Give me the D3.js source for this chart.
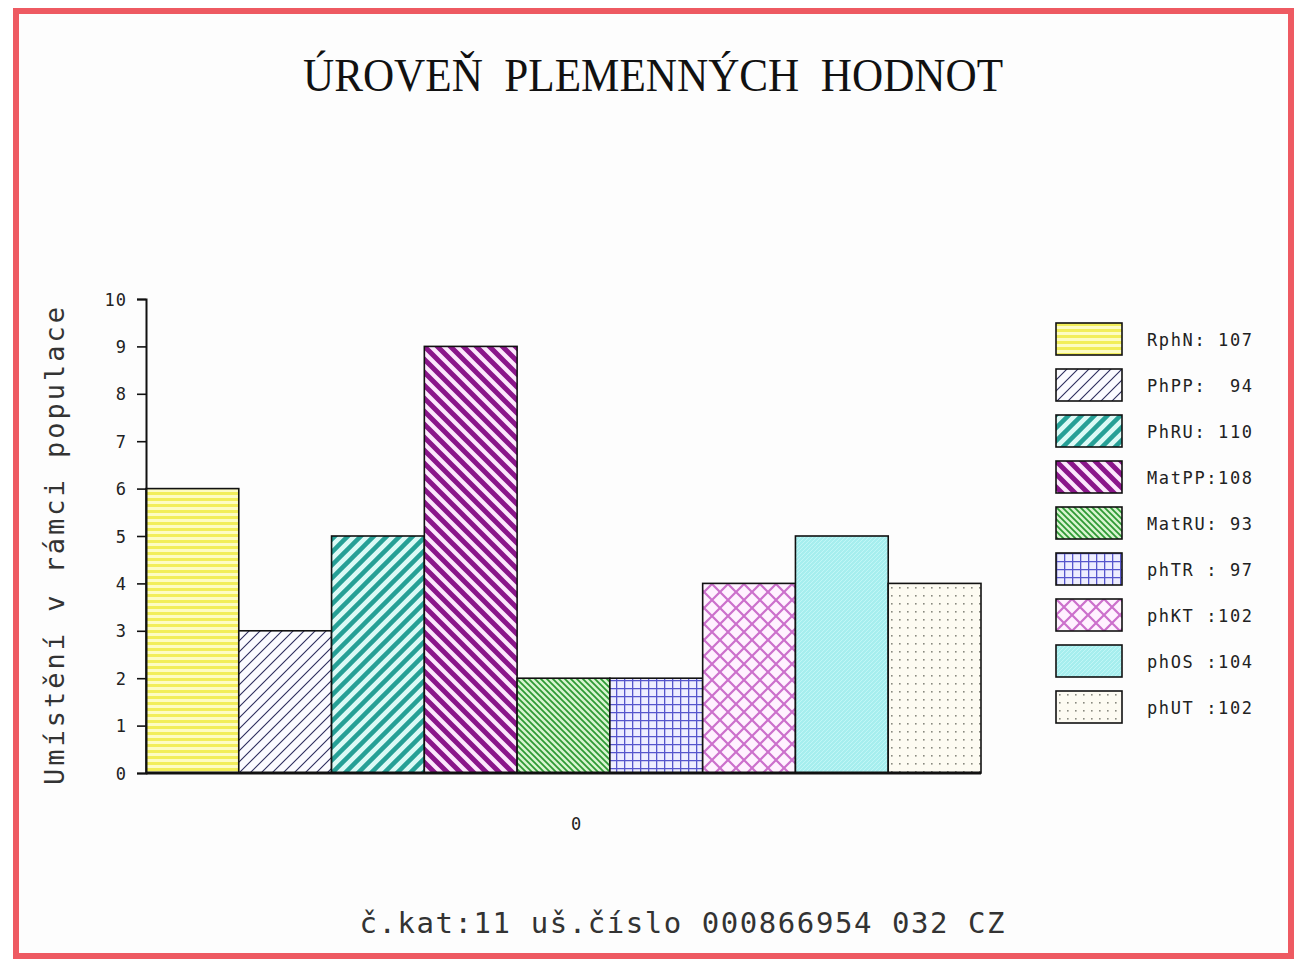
<!DOCTYPE html>
<html>
<head>
<meta charset="utf-8">
<script src="https://cdn.jsdelivr.net/npm/d3@7"></script>
<style>
  body { margin: 0; background: #ffffff; }
  text { font-family: "DejaVu Sans Mono", monospace; fill: #222; }
</style>
</head>
<body>
<div id="chart"></div>
<script>
// data
var categories = ['RphN', 'PhPP', 'PhRU', 'MatPP', 'MatRU', 'phTR', 'phKT', 'phOS', 'phUT'];
var placement = [6, 3, 5, 9, 2, 2, 4, 5, 4];
var legendLabels = ['RphN: 107', 'PhPP:  94', 'PhRU: 110', 'MatPP:108', 'MatRU: 93',
                    'phTR : 97', 'phKT :102', 'phOS :104', 'phUT :102'];
var yTicks = [0, 1, 2, 3, 4, 5, 6, 7, 8, 9, 10];
var xGroup = ['0'];

var W = 1307, H = 962;
var svg = d3.select('#chart').append('svg')
    .attr('width', W)
    .attr('height', H);

// patterns
var defs = svg.append('defs');

function pat(id, size) {
    return defs.append('pattern')
        .attr('id', id)
        .attr('patternUnits', 'userSpaceOnUse')
        .attr('width', size)
        .attr('height', size);
}

// 0 yellow horizontal stripes
var p = pat('p0', 6);
p.append('rect').attr('width', 6).attr('height', 6).attr('fill', '#fdfcc4');
p.append('rect').attr('y', 0).attr('width', 6).attr('height', 3).attr('fill', '#f2ee5a');

// 1 thin navy diagonal /
p = pat('p1', 11);
p.append('rect').attr('width', 11).attr('height', 11).attr('fill', '#fbfbff');
p.append('path').attr('d', 'M0,11 L11,0 M-2,2 L2,-2 M9,13 L13,9').attr('stroke', '#2c2c5c').attr('stroke-width', 1.1);

// 2 teal thick diagonal /
p = pat('p2', 13);
p.append('rect').attr('width', 13).attr('height', 13).attr('fill', '#dcfaf6');
p.append('path').attr('d', 'M0,13 L13,0 M-3,3 L3,-3 M10,16 L16,10').attr('stroke', '#26a096').attr('stroke-width', 4.5);

// 3 purple thick diagonal \
p = pat('p3', 13);
p.append('rect').attr('width', 13).attr('height', 13).attr('fill', '#fce8fc');
p.append('path').attr('d', 'M0,0 L13,13 M-3,10 L3,16 M10,-3 L16,3').attr('stroke', '#8a168a').attr('stroke-width', 5);

// 4 green dense diagonal \
p = pat('p4', 6);
p.append('rect').attr('width', 6).attr('height', 6).attr('fill', '#d8f4d0');
p.append('path').attr('d', 'M0,0 L6,6 M-3,3 L3,9 M3,-3 L9,3').attr('stroke', '#2e9a34').attr('stroke-width', 1.8);

// 5 blue grid
p = pat('p5', 8);
p.append('rect').attr('width', 8).attr('height', 8).attr('fill', '#eeeeff');
p.append('path').attr('d', 'M0,0.5 H8 M0.5,0 V8').attr('stroke', '#5656cc').attr('stroke-width', 1.6);

// 6 pink diagonal crosshatch
p = pat('p6', 16);
p.append('rect').attr('width', 16).attr('height', 16).attr('fill', '#fff2ff');
p.append('path').attr('d', 'M0,0 L16,16 M0,16 L16,0').attr('stroke', '#cc70cc').attr('stroke-width', 2.2);

// 7 cyan fine texture
p = pat('p7', 4);
p.append('rect').attr('width', 4).attr('height', 4).attr('fill', '#a6eeee');
p.append('path').attr('d', 'M0,2 L2,0 M2,4 L4,2').attr('stroke', '#c8f8f8').attr('stroke-width', 0.8);

// 8 dots on cream
p = pat('p8', 8);
p.append('rect').attr('width', 8).attr('height', 8).attr('fill', '#fdfbf2');
p.append('rect').attr('x', 3).attr('y', 3).attr('width', 1.6).attr('height', 1.6).attr('fill', '#8a8a80');

// frame
svg.append('rect')
    .attr('x', 16).attr('y', 11)
    .attr('width', 1275).attr('height', 945)
    .attr('fill', '#fdfdfd')
    .attr('stroke', '#ee5a62')
    .attr('stroke-width', 6);

// title
svg.append('text')
    .attr('x', 653).attr('y', 91)
    .attr('text-anchor', 'middle')
    .attr('textLength', 700)
    .attr('lengthAdjust', 'spacingAndGlyphs')
    .style('font-family', '"Liberation Serif", "DejaVu Serif", serif')
    .style('font-size', '46px')
    .style('fill', '#111')
    .style('white-space', 'pre')
    .text('ÚROVEŇ  PLEMENNÝCH  HODNOT');

// scales
var x = d3.scaleBand().domain(categories).range([146, 981]).padding(0);
var y = d3.scaleLinear().domain([0, 10]).range([773, 299]);

// bars
svg.append('g').selectAll('rect')
    .data(categories)
    .enter().append('rect')
    .attr('x', function (d) { return x(d); })
    .attr('y', function (d, i) { return y(placement[i]); })
    .attr('width', x.bandwidth())
    .attr('height', function (d, i) { return y(0) - y(placement[i]); })
    .attr('fill', function (d, i) { return 'url(#p' + i + ')'; })
    .attr('stroke', '#111')
    .attr('stroke-width', 1.6);

// y axis
var yAxis = svg.append('g')
    .attr('transform', 'translate(146,0)')
    .call(d3.axisLeft(y).tickValues(yTicks).tickSize(9).tickPadding(10).tickFormat(d3.format('d')));
yAxis.attr('font-size', null).attr('font-family', null);
yAxis.select('.domain').attr('stroke', '#111').attr('stroke-width', 2);
yAxis.selectAll('.tick line').attr('stroke', '#111').attr('stroke-width', 1.6);
yAxis.selectAll('.tick text')
    .attr('dy', '0.36em')
    .style('font-family', '"DejaVu Sans Mono", monospace')
    .style('font-size', '17px')
    .style('letter-spacing', '1px')
    .style('fill', '#222');

// baseline
svg.append('line')
    .attr('x1', 146).attr('x2', 981)
    .attr('y1', y(0)).attr('y2', y(0))
    .attr('stroke', '#111')
    .attr('stroke-width', 3);

// x group label
svg.append('g').selectAll('text')
    .data(xGroup)
    .enter().append('text')
    .attr('x', 576).attr('y', 830)
    .attr('text-anchor', 'middle')
    .style('font-size', '17px')
    .text(function (d) { return d; });

// y label
svg.append('text')
    .attr('transform', 'translate(64,546) rotate(-90)')
    .attr('text-anchor', 'middle')
    .attr('textLength', 478)
    .attr('lengthAdjust', 'spacing')
    .style('font-size', '27px')
    .style('fill', '#333')
    .text('Umístění v rámci populace');

// footer
svg.append('text')
    .attr('x', 682).attr('y', 933)
    .attr('text-anchor', 'middle')
    .attr('textLength', 645)
    .attr('lengthAdjust', 'spacing')
    .style('font-size', '29px')
    .style('fill', '#333')
    .text('č.kat:11 uš.číslo 000866954 032 CZ');

// legend
var leg = svg.append('g').selectAll('g')
    .data(legendLabels)
    .enter().append('g')
    .attr('transform', function (d, i) { return 'translate(1056,' + (323 + i * 46) + ')'; });

leg.append('rect')
    .attr('width', 66).attr('height', 32)
    .attr('fill', function (d, i) { return 'url(#p' + i + ')'; })
    .attr('stroke', '#111')
    .attr('stroke-width', 1.6);

leg.append('text')
    .attr('x', 91).attr('y', 23)
    .attr('textLength', 105)
    .attr('lengthAdjust', 'spacing')
    .style('font-size', '17px')
    .style('white-space', 'pre')
    .text(function (d) { return d; });
</script>
</body>
</html>
